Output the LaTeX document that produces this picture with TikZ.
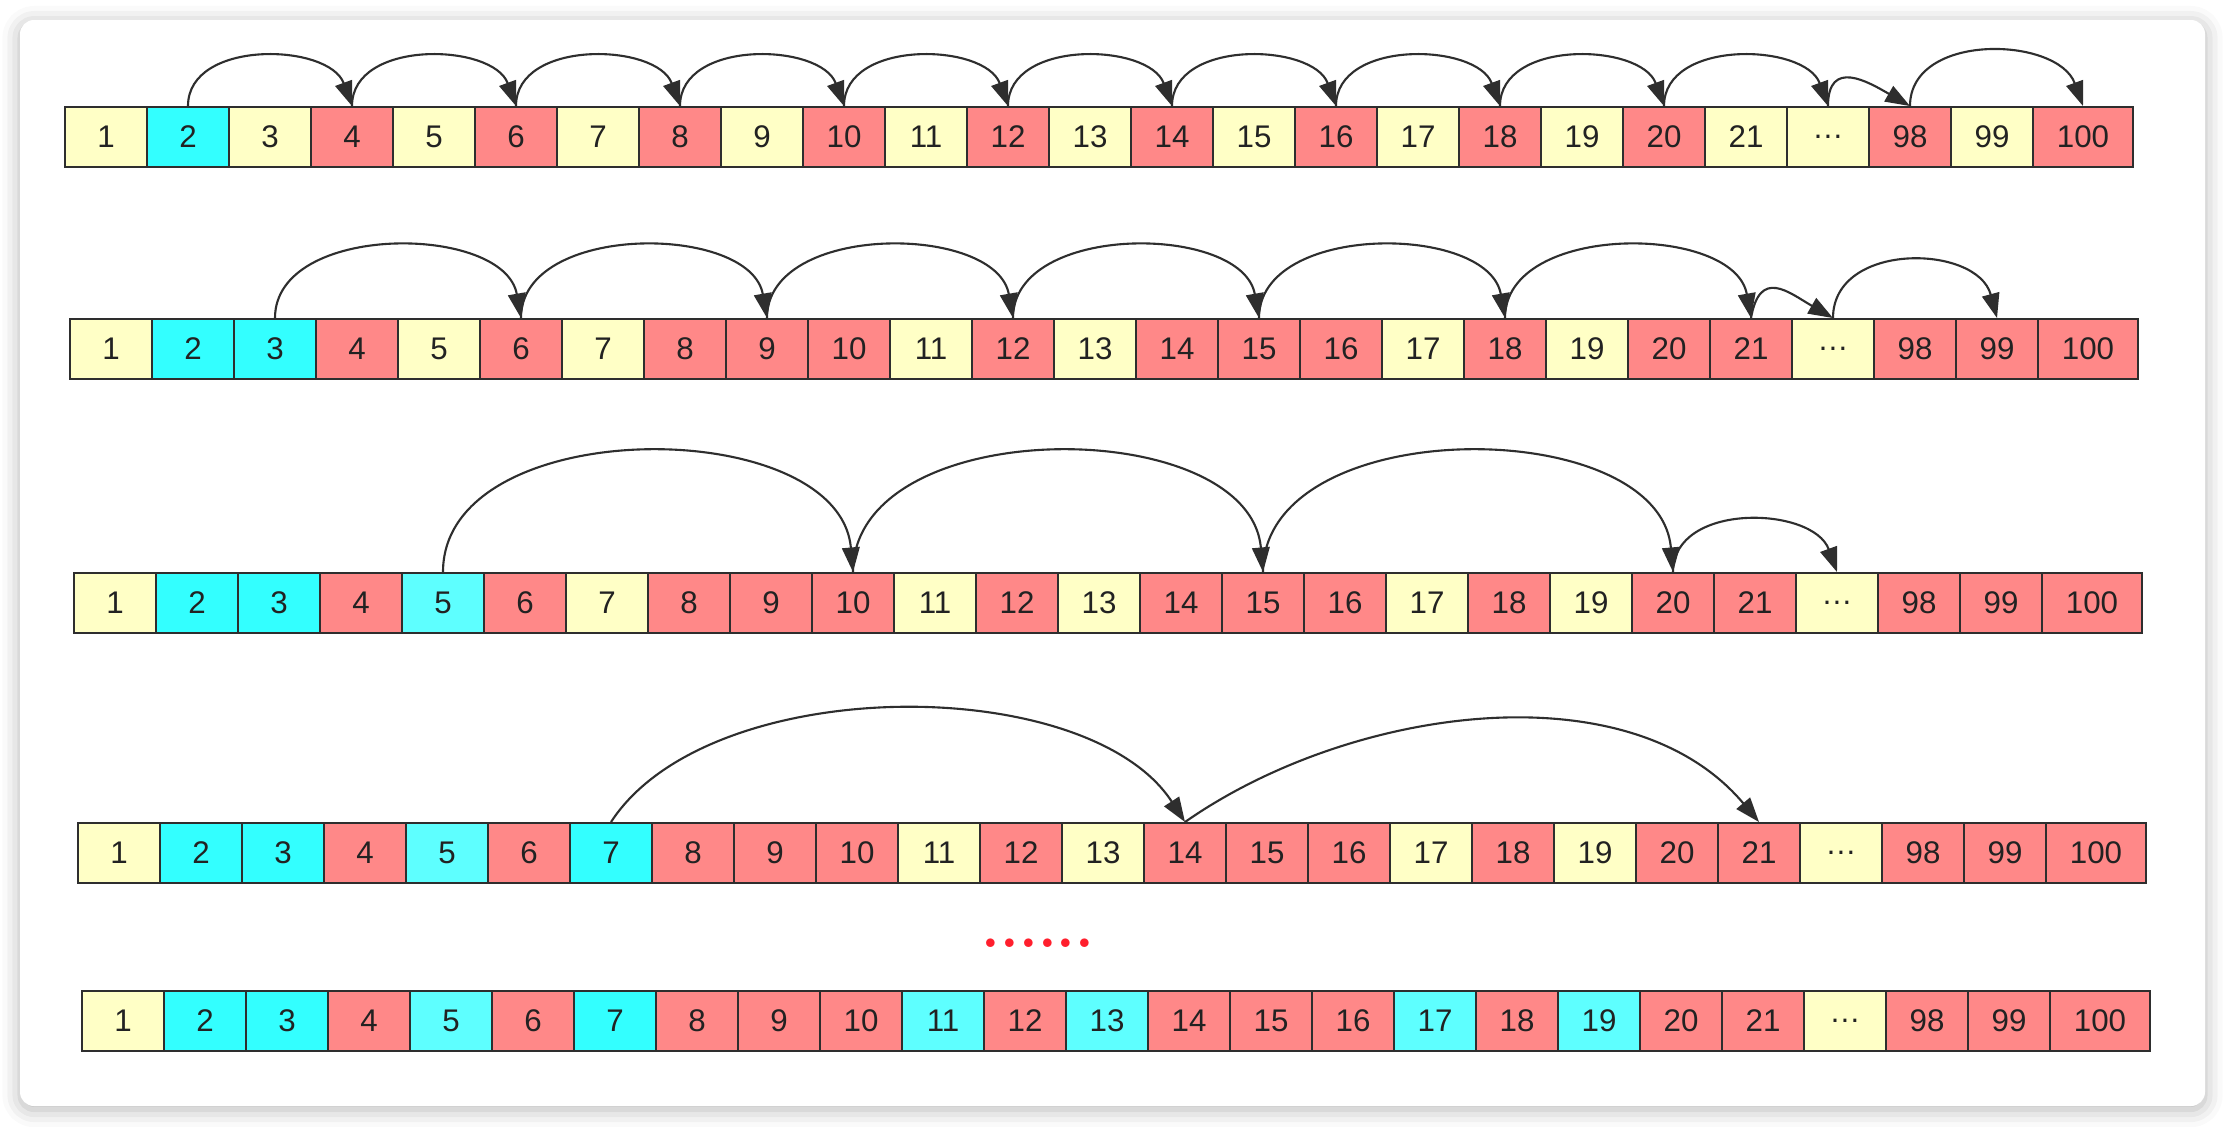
\documentclass[tikz,border=0pt]{standalone}
\usepackage{fontspec}
\setmainfont{Liberation Sans}
\newfontfamily\dotfont{Latin Modern Roman}
\usetikzlibrary{arrows.meta,shadows.blur}

\definecolor{Y}{HTML}{FFFFC6}
\definecolor{C}{HTML}{33FFFF}
\definecolor{L}{HTML}{5EFFFF}
\definecolor{R}{HTML}{FF8888}
\definecolor{edge}{HTML}{2E2E2E}
\definecolor{ink}{HTML}{222222}
\definecolor{dotred}{HTML}{FF1F2D}

\tikzset{every picture/.style={line width=0.55pt}}

% 一行格子：#1 前缀, #2 左端 x, #3 中心 y, #4 颜色表（第 22 格为省略号，23--25 为 98--100）
\newcommand{\cellrow}[4]{%
  \foreach \fc [count=\i] in {#4} {
    \ifnum\i=25 \def\cw{100}\else\def\cw{82}\fi
    \ifnum\i<22 \edef\lab{\i}\fi
    \ifnum\i=22 \def\lab{\dots}\fi
    \ifnum\i>22 \pgfmathtruncatemacro{\lab}{\i+75}\fi
    \node[cell, fill=\fc, minimum width=\cw*0.01cm] (#1\i) at ({#2+82*(\i-1)+\cw/2}, #3) {\lab};
  }}

\begin{document}
\begin{tikzpicture}[x=0.01cm, y=-0.01cm,
    cell/.style={draw=edge, rectangle, inner sep=0pt, minimum height=0.6cm,
      text=ink, font=\fontsize{8.9}{10}\selectfont},
    hop/.style={draw=edge, line width=0.6pt, -{Triangle[length=7pt,width=5pt]}},
    card/.style={fill=white, rounded corners=4pt,
      blur shadow={shadow xshift=0pt, shadow yshift=-1pt, shadow blur radius=5pt, shadow opacity=30}}]
    \useasboundingbox (0,0) rectangle (2230,1126);

    % 卡片底板
    \path[card] (20,20) rectangle (2205,1106);

    % 五行格子
    \cellrow{a}{65}{137}{Y,C,Y,R,Y,R,Y,R,Y,R,Y,R,Y,R,Y,R,Y,R,Y,R,Y,Y,R,Y,R}
    \cellrow{b}{70}{349}{Y,C,C,R,Y,R,Y,R,R,R,Y,R,Y,R,R,R,Y,R,Y,R,R,Y,R,R,R}
    \cellrow{c}{74}{603}{Y,C,C,R,L,R,Y,R,R,R,Y,R,Y,R,R,R,Y,R,Y,R,R,Y,R,R,R}
    \cellrow{d}{78}{853}{Y,C,C,R,L,R,C,R,R,R,Y,R,Y,R,R,R,Y,R,Y,R,R,Y,R,R,R}
    \cellrow{e}{82}{1021}{Y,C,C,R,L,R,C,R,R,R,L,R,L,R,R,R,L,R,L,R,R,Y,R,R,R}

    % 第一行：步长 2
    \foreach \s in {2,4,...,20} {
        \pgfmathtruncatemacro{\t}{\s+2}
        \draw[hop] (a\s.north) to[out=90, in=110, looseness=1.05] (a\t.north);
    }
    \draw[hop] (a22.north) to[out=90, in=150, looseness=1.5] (a23.north);
    \draw[hop] (a23.north) to[out=90, in=110, looseness=1.1] (a25.north);

    % 第二行：步长 3
    \foreach \s in {3,6,...,18} {
        \pgfmathtruncatemacro{\t}{\s+3}
        \draw[hop] (b\s.north) to[out=90, in=100] (b\t.north);
    }
    \draw[hop] (b21.north) to[out=80, in=150, looseness=1.6] (b22.north);
    \draw[hop] (b22.north) to[out=90, in=105, looseness=1.2] (b24.north);

    % 第三行：步长 5
    \foreach \s in {5,10,15} {
        \pgfmathtruncatemacro{\t}{\s+5}
        \draw[hop] (c\s.north) to[out=90, in=95] (c\t.north);
    }
    \draw[hop] (c20.north) to[out=90, in=110, looseness=1.1] (c22.north);

    % 第四行：步长 7
    \draw[hop] (d7.north) to[out=57, in=123, looseness=0.8] (d14.north);
    \draw[hop] (d14.north) to[out=35, in=130, looseness=0.9] (d21.north);

    % 省略
    \node[text=dotred, anchor=base, font=\dotfont\bfseries\fontsize{17}{17}\selectfont] (gap) at (1038,947) {......};
\end{tikzpicture}
\end{document}
